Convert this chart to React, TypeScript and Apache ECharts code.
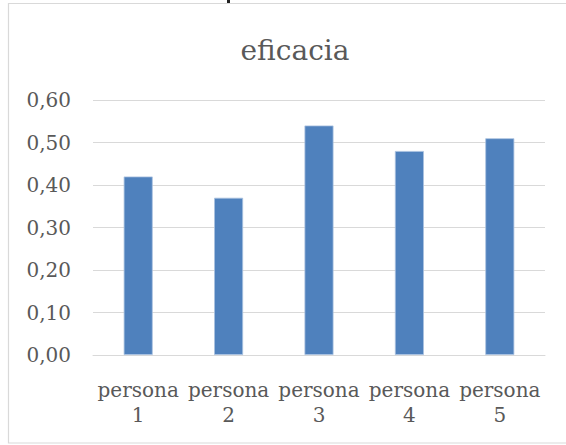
import React, { useEffect, useRef } from "react";
import * as echarts from "echarts";

const categories = ["persona\n1", "persona\n2", "persona\n3", "persona\n4", "persona\n5"];
const eficacia = [0.42, 0.37, 0.54, 0.48, 0.51];
const yTicks = { min: 0, max: 0.6, interval: 0.1 };

const FONT = "'DejaVu Serif', serif";
const TEXT = "#595959";
const GRID_LINE = "#d9d9d9";
const BAR = "#4f81bd";

export default function App() {
  const ref = useRef<HTMLDivElement>(null);

  useEffect(() => {
    if (!ref.current) return;
    const chart = echarts.init(ref.current, undefined, { renderer: "svg" });
    chart.setOption({
      animation: false,
      backgroundColor: "#ffffff",
      title: {
        text: "eficacia",
        left: 290,
        top: 31,
        textAlign: "center",
        textStyle: { fontFamily: FONT, fontSize: 28, fontWeight: "normal", color: TEXT },
      },
      grid: { left: 93, right: 21, top: 100, bottom: 90, containLabel: false },
      xAxis: {
        type: "category",
        data: categories,
        axisTick: { show: false },
        axisLine: { show: true, lineStyle: { color: GRID_LINE, width: 1 } },
        axisLabel: {
          interval: 0,
          margin: 22,
          fontFamily: FONT,
          fontSize: 20,
          lineHeight: 25,
          color: TEXT,
        },
      },
      yAxis: {
        type: "value",
        min: yTicks.min,
        max: yTicks.max,
        interval: yTicks.interval,
        axisLine: { show: false },
        axisTick: { show: false },
        splitLine: { lineStyle: { color: GRID_LINE, width: 1 } },
        axisLabel: {
          margin: 22,
          fontFamily: FONT,
          fontSize: 20,
          color: TEXT,
          formatter: (v: number) => v.toFixed(2).replace(".", ","),
        },
      },
      series: [
        {
          type: "bar",
          data: eficacia,
          barWidth: 29,
          itemStyle: { color: BAR, borderColor: "#a9c1e0", borderWidth: 0.8 },
        },
      ],
      graphic: [
        {
          type: "rect",
          shape: { x: 8.5, y: 3.5, width: 600, height: 439.5 },
          style: { fill: "none", stroke: GRID_LINE, lineWidth: 1.2 },
          silent: true,
        },
        {
          type: "rect",
          shape: { x: 227, y: 0, width: 3, height: 3 },
          style: { fill: "#222222" },
          silent: true,
        },
      ],
    });
    return () => chart.dispose();
  }, []);

  return (
    <div
      ref={ref}
      style={{ position: "fixed", left: 0, top: 0, width: 566, height: 445, background: "#fff" }}
    />
  );
}
